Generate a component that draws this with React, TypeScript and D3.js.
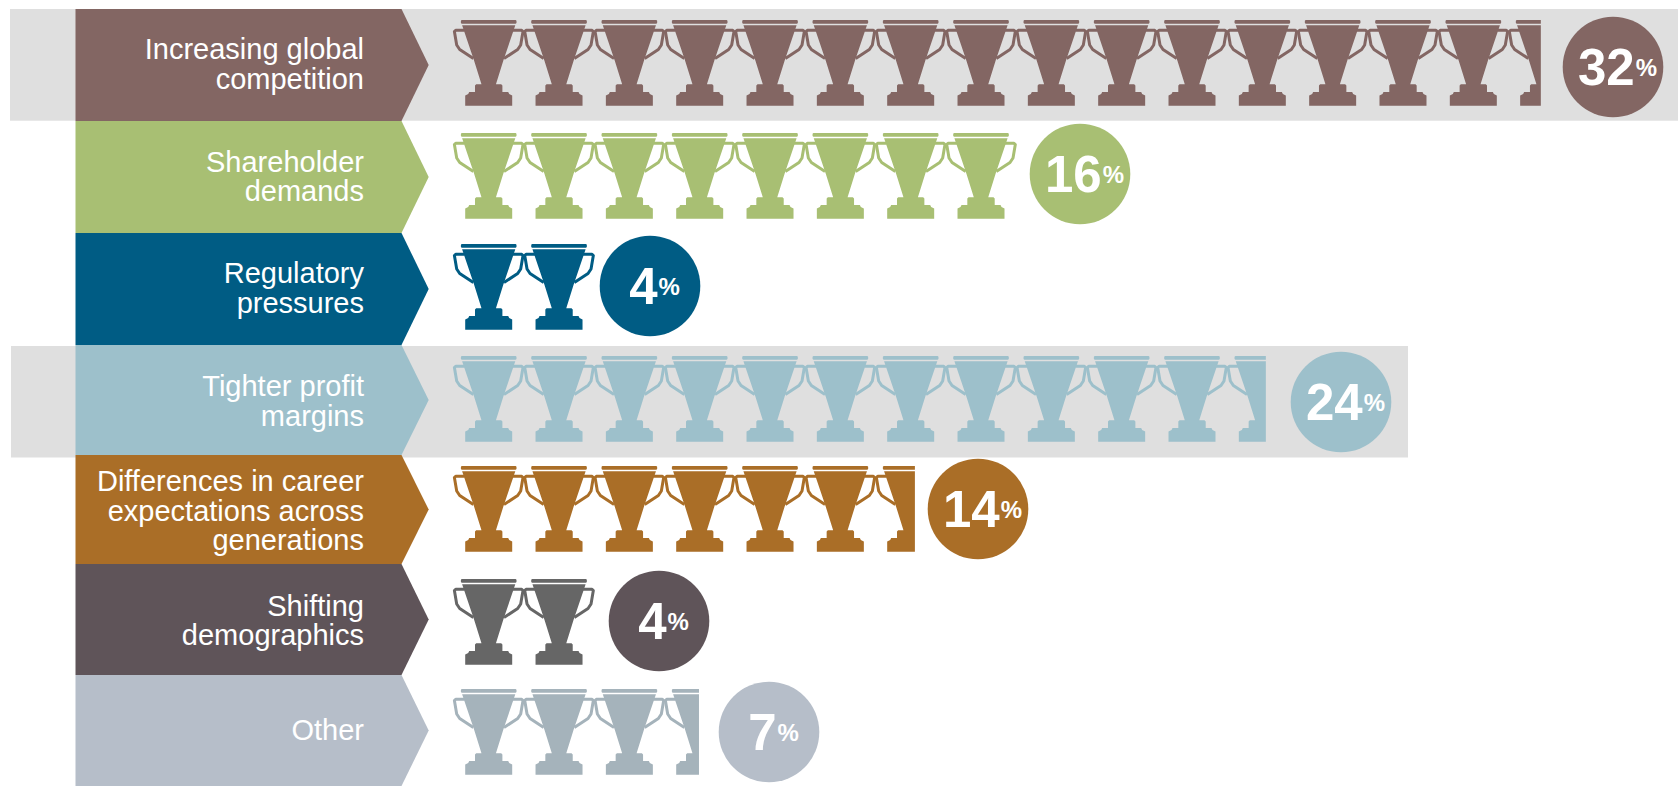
import React from 'react';
import * as d3 from 'd3';

const categories = [
  'Increasing global competition',
  'Shareholder demands',
  'Regulatory pressures',
  'Tighter profit margins',
  'Differences in career expectations across generations',
  'Shifting demographics',
  'Other',
];
const labelLines = [
  ['Increasing global', 'competition'],
  ['Shareholder', 'demands'],
  ['Regulatory', 'pressures'],
  ['Tighter profit', 'margins'],
  ['Differences in career', 'expectations across', 'generations'],
  ['Shifting', 'demographics'],
  ['Other'],
];
const percentages = [32, 16, 4, 24, 14, 4, 7];
// how many trophies each row shows, the last one may be cut off
const trophyCounts = [15.46, 8, 2, 11.55, 6.56, 2, 3.49];
const chevronColors = ['#836663', '#a8bf73', '#005c84', '#9dc0cb', '#aa6e27', '#5f5459', '#b6bec9'];
const trophyColors = ['#836663', '#a8bf73', '#005c84', '#9dc0cb', '#aa6e27', '#666666', '#a5b3bb'];

// layout
const rowTops = [9, 121, 233, 345, 455, 564, 675];
const rowBottoms = [121, 233, 345, 455, 564, 675, 786];
const trophyTops = [20, 133, 244, 356, 466, 579, 689];
const circleX = [1613, 1080, 650, 1341, 978, 659, 769];
const circleY = [67, 174, 286, 402, 509, 621, 732];
const labelShift = [9, 9.5, 9, 11, 11, 11, 9];
const greyBands = [
  { x0: 10, x1: 1678, y0: 9, y1: 120.7 },
  { x0: 11, x1: 1408, y0: 346, y1: 457.5 },
];

const WIDTH = 1678;
const HEIGHT = 786;
const CHEVRON_LEFT = 75.5;
const CHEVRON_SHOULDER = 401.5;
const CHEVRON_TIP = 428.7;
const LABEL_RIGHT = 364;
const FIRST_TROPHY = 488.7;
const TROPHY_PITCH = 70.33;
const LINE_HEIGHT = 29.5;
const FONT = '"Liberation Sans", Arial, sans-serif';

const yTop = d3.scaleOrdinal<string, number>(categories, rowTops);
const yBottom = d3.scaleOrdinal<string, number>(categories, rowBottoms);
const yTrophy = d3.scaleOrdinal<string, number>(categories, trophyTops);
const xCircle = d3.scaleOrdinal<string, number>(categories, circleX);
const yCircle = d3.scaleOrdinal<string, number>(categories, circleY);
const xTrophy = d3.scaleLinear().domain([0, 1]).range([FIRST_TROPHY, FIRST_TROPHY + TROPHY_PITCH]);

const polygon = d3.line();

const trophyBody = () => {
  const rim: [number, number][] = [
    [-27, 0], [27, 0], [27.8, 0.8], [27.8, 3], [27, 3.8], [-27, 3.8], [-27.8, 3], [-27.8, 0.8],
  ];
  const cup: [number, number][] = [
    [-26.6, 5.3], [26.6, 5.3], [14.5, 41], [7, 65], [-7, 65], [-14.5, 41],
  ];
  const base: [number, number][] = [
    [-12.5, 64.3], [12.5, 64.3], [13.7, 65.5], [13.7, 72], [19.5, 72], [20.5, 74], [23.5, 75.5],
    [23.5, 85.7], [-23.5, 85.7], [-23.5, 75.5], [-20.5, 74], [-19.5, 72], [-13.7, 72], [-13.7, 65.5],
  ];
  return [rim, cup, base].map((pts) => polygon(pts) + 'Z').join('');
};

const handle = (side: number) =>
  d3.line()([
    [side * 24, 10.3],
    [side * 33, 10.3],
    [side * 34.3, 11.5],
    [side * 32, 25],
    [side * 29, 29.5],
    [side * 15.3, 38.5],
  ]) ?? '';

const bodyPath = trophyBody();
const leftHandle = handle(-1);
const rightHandle = handle(1);

const Trophy: React.FC<{ x: number; y: number; color: string }> = ({ x, y, color }) => (
  <g transform={`translate(${x},${y})`}>
    <path d={bodyPath} fill={color} />
    <path d={leftHandle} fill="none" stroke={color} strokeWidth={3} strokeLinejoin="round" />
    <path d={rightHandle} fill="none" stroke={color} strokeWidth={3} strokeLinejoin="round" />
  </g>
);

export default function App() {
  return (
    <svg
      width={WIDTH}
      height={HEIGHT}
      style={{ position: 'fixed', left: 0, top: 0, display: 'block', background: '#fff' }}
      fontFamily={FONT}
    >
      {greyBands.map((b) => (
        <rect key={b.y0} x={b.x0} y={b.y0} width={b.x1 - b.x0} height={b.y1 - b.y0} fill="#dfdfdf" />
      ))}

      {categories.map((c, i) => {
        const top = yTop(c);
        const bottom = yBottom(c);
        const outline = polygon([
          [CHEVRON_LEFT, top],
          [CHEVRON_SHOULDER, top],
          [CHEVRON_TIP, (top + bottom) / 2],
          [CHEVRON_SHOULDER, bottom],
          [CHEVRON_LEFT, bottom],
        ]) + 'Z';
        const count = trophyCounts[i];
        const clipRight = Number.isInteger(count) ? xTrophy(count) : xTrophy(count - 0.5);
        const lines = labelLines[i];
        const firstBaseline = (top + bottom) / 2 - ((lines.length - 1) * LINE_HEIGHT) / 2 + labelShift[i];
        return (
          <g key={c}>
            <path d={outline} fill={chevronColors[i]} />
            <text fill="#fff" fontSize={29} textAnchor="end">
              {lines.map((line, k) => (
                <tspan key={line} x={LABEL_RIGHT} y={firstBaseline + k * LINE_HEIGHT}>{line}</tspan>
              ))}
            </text>

            <clipPath id={`row-clip-${i}`}>
              <rect x={CHEVRON_TIP} y={top} width={clipRight - CHEVRON_TIP} height={bottom - top} />
            </clipPath>
            <g clipPath={`url(#row-clip-${i})`}>
              {d3.range(Math.ceil(count)).map((n) => (
                <Trophy key={n} x={xTrophy(n)} y={yTrophy(c)} color={trophyColors[i]} />
              ))}
            </g>

            <circle cx={xCircle(c)} cy={yCircle(c)} r={50.3} fill={chevronColors[i]} />
            <text x={xCircle(c) + 4.5} y={yCircle(c) + 18} fill="#fff" textAnchor="middle" fontWeight="bold" fontSize={51}>
              {percentages[i]}
              <tspan fontSize={24} dx={1} dy={-9}>%</tspan>
            </text>
          </g>
        );
      })}
    </svg>
  );
}
